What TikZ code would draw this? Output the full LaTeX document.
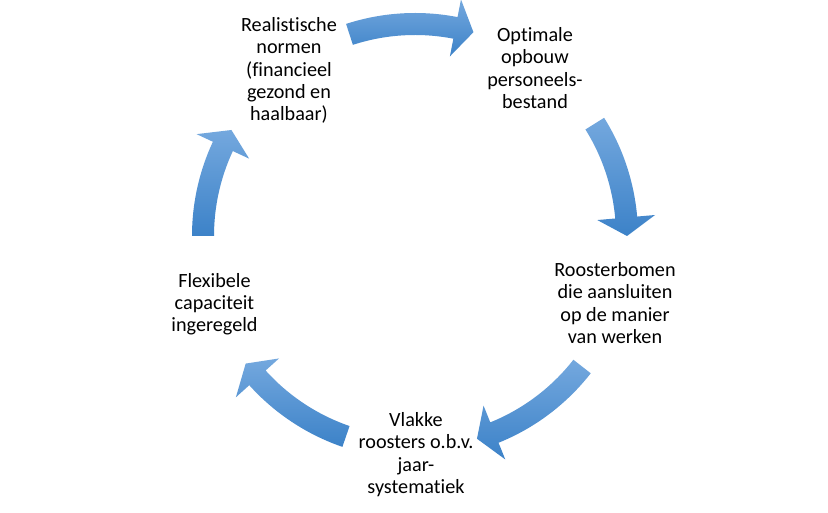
\documentclass[tikz,border=0pt]{standalone}
\usepackage{fontspec}
\setmainfont{Carlito}[Ligatures=NoCommon]
\usetikzlibrary{calc}
\definecolor{arrlight}{RGB}{116,168,222}
\definecolor{arrdark}{RGB}{60,130,200}
\tikzset{
  cyctext/.style={align=center, font=\fontsize{20.2}{22.2}\selectfont, inner sep=0pt, anchor=base, text=black},
  cycarrow/.style={top color=arrlight, bottom color=arrdark, draw=none},
}
\newcommand{\cycarr}[2]{%
  \pgfmathsetmacro{\cycah}{#2+5}%
  \shade[cycarrow] ($(C)+(#1:223pt)$) arc[start angle=#1, end angle=\cycah, radius=223pt]
    -- ($(C)+(\cycah:241pt)$) -- ($(C)+(#2:212pt)$) -- ($(C)+(\cycah:183pt)$)
    -- ($(C)+(\cycah:201pt)$) arc[start angle=\cycah, end angle=#1, radius=201pt] -- cycle;
}
\begin{document}
\begin{tikzpicture}[x=1pt,y=1pt]
  \useasboundingbox (0,0) rectangle (828,512);
  \fill[white] (0,0) rectangle (828,512);
  \coordinate (C) at (415,276);
  \cycarr{108}{74}
  \cycarr{32}{0}
  \cycarr{-38}{-73}
  \cycarr{-109}{-143}
  \cycarr{180}{150}
  \node[cyctext] (n1) at (289,391.5) {Realistische\\normen\\(financieel\\gezond en\\haalbaar)};
  \node[cyctext] (n2) at (535,403.7) {Optimale\\opbouw\\personeels-\\bestand};
  \node[cyctext] (n3) at (615,168.7) {Roosterbomen\\die aansluiten\\op de manier\\van werken};
  \node[cyctext] (n4) at (416,18.7) {Vlakke\\roosters o.b.v.\\jaar-\\systematiek};
  \node[cyctext] (n5) at (214.5,180.3) {Flexibele\\capaciteit\\ingeregeld};
\end{tikzpicture}
\end{document}
